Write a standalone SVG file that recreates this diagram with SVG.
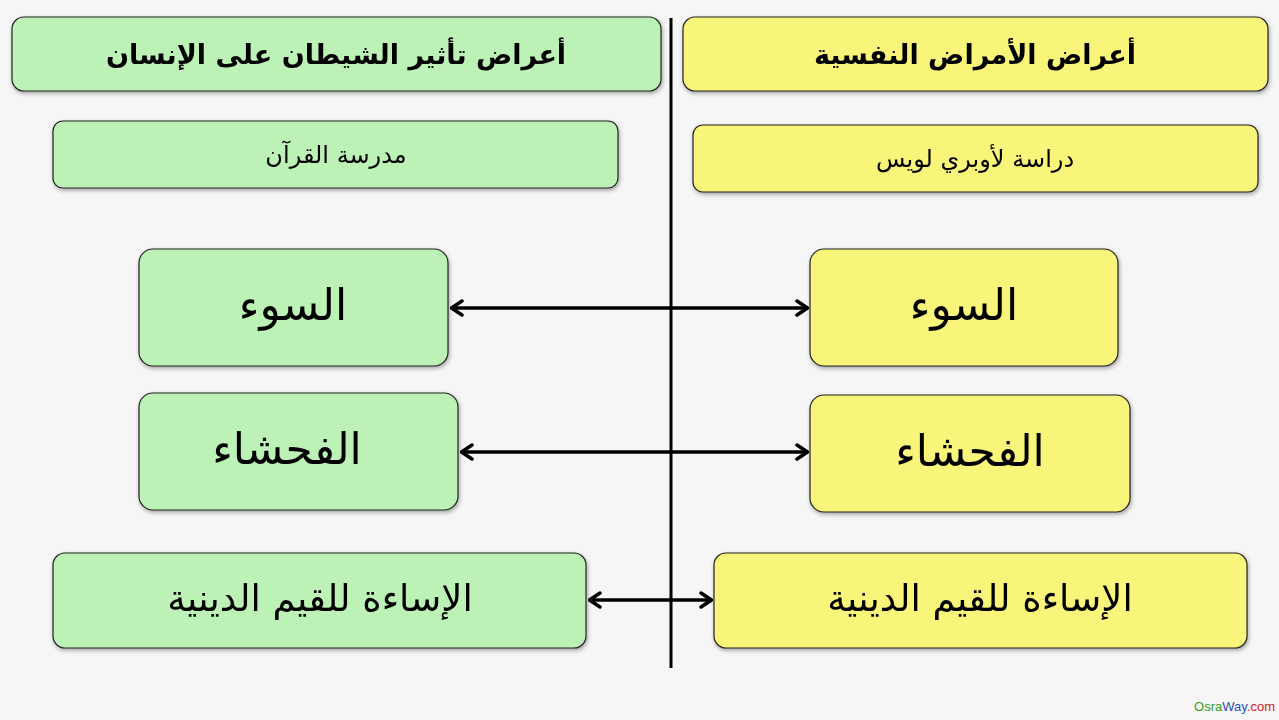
<svg xmlns="http://www.w3.org/2000/svg" width="1279" height="720" viewBox="0 0 1279 720">
<defs>
<filter id="sh" x="-5%" y="-10%" width="110%" height="125%">
<feGaussianBlur in="SourceAlpha" stdDeviation="2"/>
<feOffset dx="1" dy="2" result="b"/>
<feComponentTransfer><feFuncA type="linear" slope="0.35"/></feComponentTransfer>
<feMerge><feMergeNode/><feMergeNode in="SourceGraphic"/></feMerge>
</filter>
<marker id="ah" viewBox="0 0 14 18" refX="13" refY="9" markerWidth="14" markerHeight="18" markerUnits="userSpaceOnUse" orient="auto-start-reverse">
<path d="M2,2 L12.5,9 L2,16" fill="none" stroke="#000" stroke-width="3.5" stroke-linecap="round" stroke-linejoin="round"/>
</marker>
</defs>
<style>
.g{fill:#bdf2b7;stroke:#222;stroke-width:1.2}
.y{fill:#f9f57a;stroke:#222;stroke-width:1.2}
text{font-family:"DejaVu Serif","Liberation Serif","DejaVu Sans",serif;fill:#000;text-anchor:middle}
.h{font-size:27px;font-weight:bold}
.s{font-size:24px}
.b{font-size:44px}
.m{font-size:37px}
.c{stroke:#000;stroke-width:3.5;fill:none}
</style>
<rect width="1279" height="720" fill="#f6f6f6"/>
<g id="divider"><line x1="671" y1="18" x2="671" y2="668" stroke="#000" stroke-width="3"/></g>
<g id="hdr-left" filter="url(#sh)"><rect class="g" x="12" y="17" width="649" height="74" rx="12"/><text class="h" x="336" y="64">أعراض تأثير الشيطان على الإنسان</text></g>
<g id="hdr-right" filter="url(#sh)"><rect class="y" x="683" y="17" width="585" height="74" rx="12"/><text class="h" x="975" y="64">أعراض الأمراض النفسية</text></g>
<g id="src-left" filter="url(#sh)"><rect class="g" x="53" y="121" width="565" height="67" rx="10"/><text class="s" x="336" y="163">مدرسة القرآن</text></g>
<g id="src-right" filter="url(#sh)"><rect class="y" x="693" y="125" width="565" height="67" rx="10"/><text class="s" x="975" y="167">دراسة لأوبري لويس</text></g>
<g id="l1" filter="url(#sh)"><rect class="g" x="139" y="249" width="309" height="117" rx="14"/><text class="b" x="293" y="320">السوء</text></g>
<g id="r1" filter="url(#sh)"><rect class="y" x="810" y="249" width="308" height="117" rx="14"/><text class="b" x="964" y="320">السوء</text></g>
<g id="l2" filter="url(#sh)"><rect class="g" x="139" y="393" width="319" height="117" rx="14"/><text class="b" x="287" y="464">الفحشاء</text></g>
<g id="r2" filter="url(#sh)"><rect class="y" x="810" y="395" width="320" height="117" rx="14"/><text class="b" x="970" y="466">الفحشاء</text></g>
<g id="l3" filter="url(#sh)"><rect class="g" x="53" y="553" width="533" height="95" rx="12"/><text class="m" x="320" y="611">الإساءة للقيم الدينية</text></g>
<g id="r3" filter="url(#sh)"><rect class="y" x="714" y="553" width="533" height="95" rx="12"/><text class="m" x="980" y="611">الإساءة للقيم الدينية</text></g>
<g id="connectors">
<line class="c" x1="451" y1="308" x2="808" y2="308" marker-start="url(#ah)" marker-end="url(#ah)"/>
<line class="c" x1="461" y1="452" x2="808" y2="452" marker-start="url(#ah)" marker-end="url(#ah)"/>
<line class="c" x1="589" y1="600" x2="712" y2="600" marker-start="url(#ah)" marker-end="url(#ah)"/>
</g>
<g id="watermark"><text x="1275" y="711" style="font-family:'Liberation Sans',Arial,sans-serif;font-size:13px;text-anchor:end"><tspan fill="#3a9a1a">Osra</tspan><tspan fill="#2a50c0">Way</tspan><tspan fill="#d02020">.com</tspan></text></g>
</svg>
